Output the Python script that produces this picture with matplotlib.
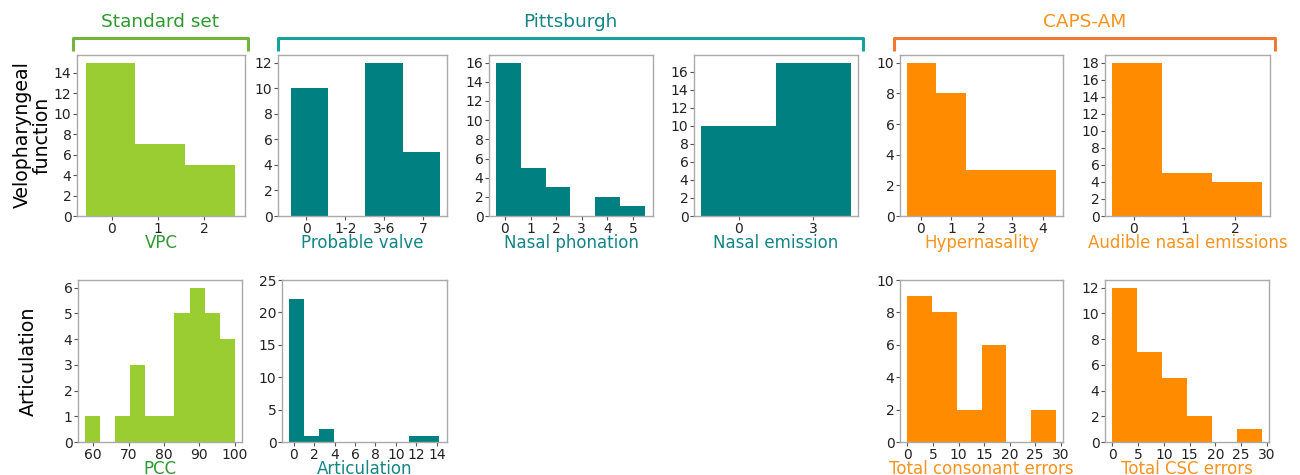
import matplotlib.pyplot as plt
from matplotlib.lines import Line2D

# colours
green = '#9acd32'
teal = '#008080'
orange = '#ff8c00'
green_txt = '#2e9a2e'
teal_txt = '#138585'
orange_txt = '#f7931e'

# data (counts per histogram bin, n = 27)
vpc_edges = [-0.57, 0.5, 1.59, 2.67]
vpc_counts = [15, 7, 5]

valve_edges = [-0.39, 0.56, 1.52, 2.48, 3.44]
valve_counts = [10, 0, 12, 5]
valve_labels = ['0', '1-2', '3-6', '7']

phon_edges = [-0.33, 0.62, 1.59, 2.56, 3.53, 4.50, 5.47]
phon_counts = [16, 5, 3, 0, 2, 1]

emis_edges = [-0.5, 0.5, 1.5]
emis_counts = [10, 17]
emis_labels = ['0', '3']

hyper_edges = [-0.47, 0.5, 1.48, 2.46, 3.45, 4.43]
hyper_counts = [10, 8, 3, 3, 3]

aud_edges = [-0.43, 0.55, 1.54, 2.53]
aud_counts = [18, 5, 4]

pcc_edges = [57.8, 62.0, 66.2, 70.4, 74.6, 78.8, 83.0, 87.3, 91.5, 95.8, 100]
pcc_counts = [1, 0, 1, 3, 1, 1, 5, 6, 5, 4]

artic_edges = [-0.42, 1.05, 2.51, 3.98, 5.45, 6.92, 8.38, 9.85, 11.32, 12.79, 14.26]
artic_counts = [22, 1, 2, 0, 0, 0, 0, 0, 1, 1]

err_edges = [0, 4.83, 9.67, 14.5, 19.33, 24.17, 29]
cons_counts = [9, 8, 2, 6, 0, 2]
csc_counts = [12, 7, 5, 2, 0, 1]

W, H = 1300, 475
fig = plt.figure(figsize=(13, 4.75), dpi=100)


def panel(px, edges, counts, color, xlabel, lcolor, xlim, ticks, labels=None,
          ystep=2, ylim=None):
    l, t, r, b = px
    ax = fig.add_axes([l / W, 1 - b / H, (r - l) / W, (b - t) / H])
    widths = [edges[i + 1] - edges[i] for i in range(len(counts))]
    ax.bar(edges[:-1], counts, width=widths, align='edge', color=color, linewidth=0)
    ax.set_xlim(*xlim)
    if ylim is None:
        ylim = (0, max(counts) * 1.05)
    ax.set_ylim(*ylim)
    ax.set_yticks(range(0, int(ylim[1]) + 1, ystep))
    ax.set_xticks(ticks)
    if labels is not None:
        ax.set_xticklabels(labels)
    ax.set_xlabel(xlabel, color=lcolor, fontsize=12, labelpad=-1)
    ax.tick_params(labelsize=10, length=3, width=0.8, color='#555555', pad=1,
                   labelcolor='#222222')
    for s in ax.spines.values():
        s.set_color('#aaaaaa')
        s.set_linewidth(1)
    return ax


# top row
panel((77, 55, 245, 216), vpc_edges, vpc_counts, green, 'VPC', green_txt,
      (-0.76, 2.89), [0, 1, 2])
panel((278, 55, 447, 216), valve_edges, valve_counts, teal, 'Probable valve', teal_txt,
      (-0.73, 3.62), [0, 1, 2, 3], valve_labels)
panel((489, 55, 653, 216), phon_edges, phon_counts, teal, 'Nasal phonation', teal_txt,
      (-0.62, 5.78), [0, 1, 2, 3, 4, 5])
panel((694, 55, 858, 216), emis_edges, emis_counts, teal, 'Nasal emission', teal_txt,
      (-0.6, 1.6), [0, 1], emis_labels)
panel((900, 55, 1063, 216), hyper_edges, hyper_counts, orange, 'Hypernasality', orange_txt,
      (-0.69, 4.67), [0, 1, 2, 3, 4])
panel((1105, 55, 1270, 216), aud_edges, aud_counts, orange, 'Audible nasal emissions', orange_txt,
      (-0.57, 2.69), [0, 1, 2])

# bottom row
panel((78, 280, 242, 442), pcc_edges, pcc_counts, green, 'PCC', green_txt,
      (55.7, 102.1), [60, 70, 80, 90, 100], ystep=1)
panel((282, 280, 447, 442), artic_edges, artic_counts, teal, 'Articulation', teal_txt,
      (-1.15, 15.0), [0, 2, 4, 6, 8, 10, 12, 14], ystep=5, ylim=(0, 25))
panel((900, 280, 1063, 442), err_edges, cons_counts, orange, 'Total consonant errors', orange_txt,
      (-1.45, 30.45), [0, 5, 10, 15, 20, 25, 30], ylim=(0, 10))
panel((1105, 280, 1269, 442), err_edges, csc_counts, orange, 'Total CSC errors', orange_txt,
      (-1.45, 30.45), [0, 5, 10, 15, 20, 25, 30])


# group brackets with titles
def bracket(x0, x1, color, text, tcolor):
    xs = [x0 / W, x0 / W, x1 / W, x1 / W]
    ys = [1 - 51 / H, 1 - 38 / H, 1 - 38 / H, 1 - 51 / H]
    fig.add_artist(Line2D(xs, ys, color=color, lw=2.2, solid_joinstyle='round',
                          solid_capstyle='butt'))
    fig.text((x0 + x1) / 2 / W, 1 - 22 / H, text, color=tcolor, fontsize=13.3,
             ha='center', va='center')


bracket(73, 248, '#74b43c', 'Standard set', green_txt)
bracket(278, 863, '#18a09c', 'Pittsburgh', teal_txt)
bracket(894, 1275, '#f07a35', 'CAPS-AM', orange_txt)

# row labels
fig.text(32 / W, 1 - 135 / H, 'Velopharyngeal\nfunction', rotation=90, fontsize=13.6,
         ha='center', va='center', linespacing=1.05)
fig.text(28 / W, 1 - 361 / H, 'Articulation', rotation=90, fontsize=13.7,
         ha='center', va='center')

fig.savefig('out.png', dpi=100)
